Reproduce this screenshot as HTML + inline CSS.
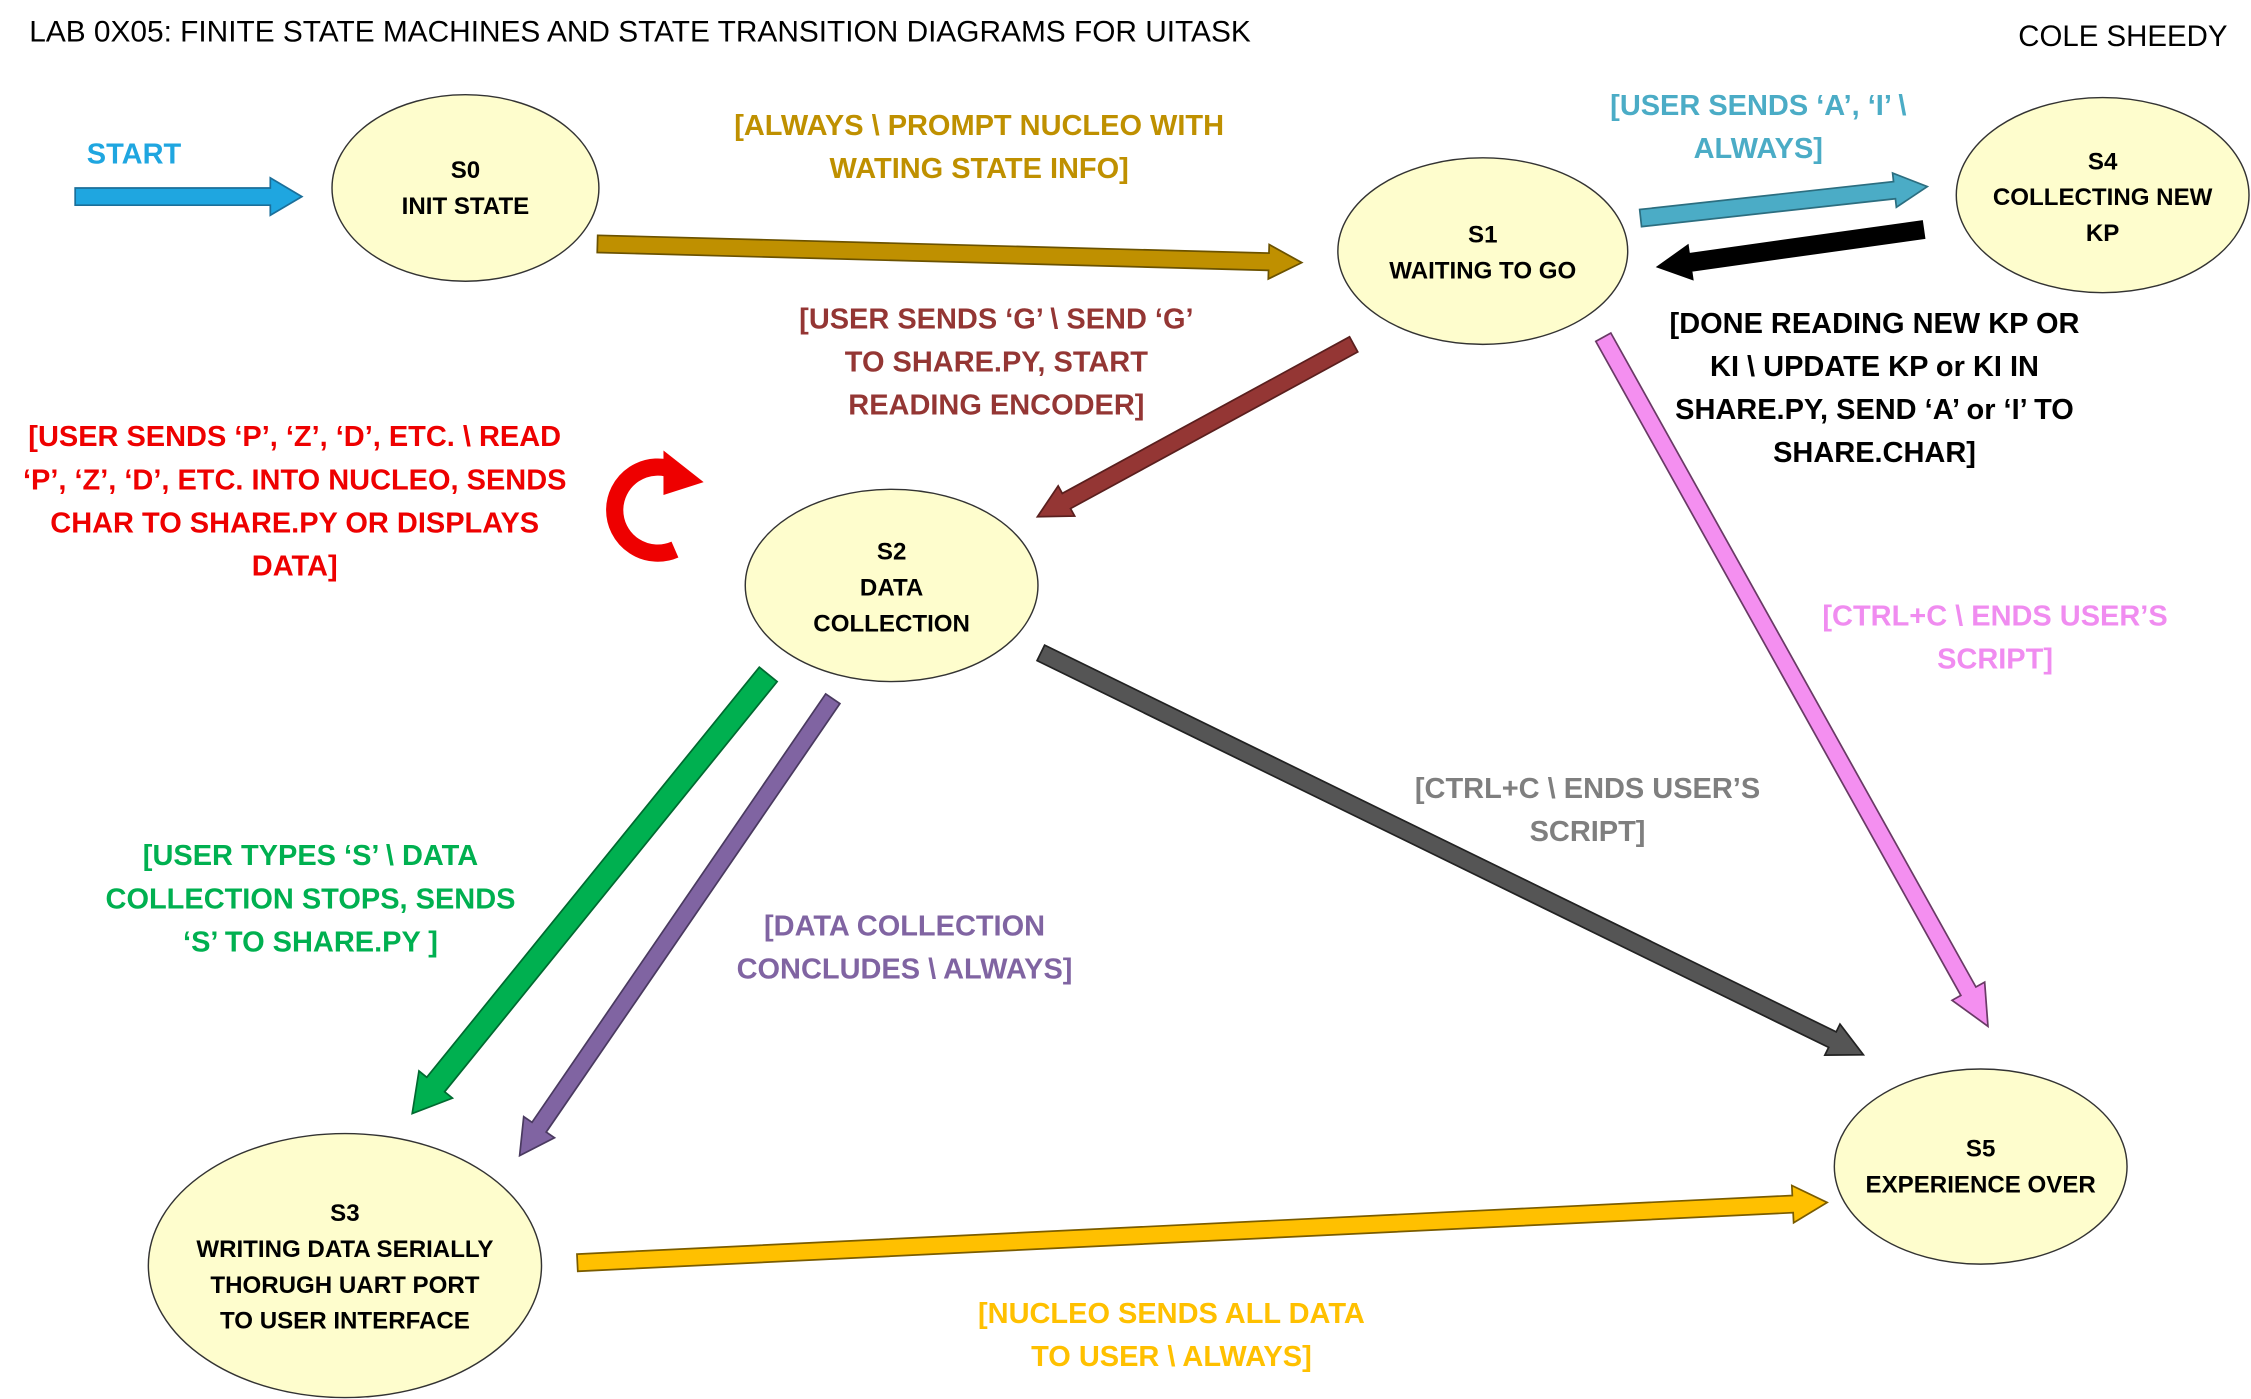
<!DOCTYPE html>
<html><head><meta charset="utf-8"><style>
html,body{margin:0;padding:0;background:#fff;}
svg{display:block;}
text{font-family:"Liberation Sans",sans-serif;}
.l{font-weight:bold;font-size:20.2px;text-anchor:middle;}
.s{font-weight:bold;font-size:16.8px;text-anchor:middle;fill:#000;}
</style></head><body>
<svg width="2251" height="1399" viewBox="0 0 1568 975" xmlns="http://www.w3.org/2000/svg">
<rect width="1568" height="975" fill="#fff"/>
<text x="20" y="29" font-size="20.8">LAB 0X05: FINITE STATE MACHINES AND STATE TRANSITION DIAGRAMS FOR UITASK</text>
<text x="1552" y="32" font-size="20.5" text-anchor="end">COLE SHEEDY</text>

<g stroke="#333" stroke-width="1">
<ellipse cx="324" cy="131" rx="93" ry="65" fill="#fefdcd"/>
<ellipse cx="1033" cy="175" rx="101" ry="65" fill="#fefdcd"/>
<ellipse cx="1465" cy="136" rx="102" ry="68" fill="#fefdcd"/>
<ellipse cx="621" cy="408" rx="102" ry="67" fill="#fefdcd"/>
<ellipse cx="240" cy="882" rx="137" ry="92" fill="#fefdcd"/>
<ellipse cx="1380" cy="813" rx="102" ry="68" fill="#fefdcd"/>
</g>
<text class="s"><tspan x="324" y="124">S0</tspan><tspan x="324" y="149">INIT STATE</tspan></text>
<text class="s"><tspan x="1033" y="169">S1</tspan><tspan x="1033" y="194">WAITING TO GO</tspan></text>
<text class="s"><tspan x="1465" y="118">S4</tspan><tspan x="1465" y="143">COLLECTING NEW</tspan><tspan x="1465" y="168">KP</tspan></text>
<text class="s"><tspan x="621" y="390">S2</tspan><tspan x="621" y="415">DATA</tspan><tspan x="621" y="440">COLLECTION</tspan></text>
<text class="s"><tspan x="240" y="851">S3</tspan><tspan x="240" y="876">WRITING DATA SERIALLY</tspan><tspan x="240" y="901">THORUGH UART PORT</tspan><tspan x="240" y="926">TO USER INTERFACE</tspan></text>
<text class="s"><tspan x="1380" y="806">S5</tspan><tspan x="1380" y="831">EXPERIENCE OVER</tspan></text>

<g stroke-width="1.2">
<g transform="translate(52,137) rotate(0)"><polygon fill="#1fa6e0" stroke="#1b6f9a" points="0,-6 136,-6 136,-13 158,0 136,13 136,6 0,6"/></g>
<g transform="translate(416,170) rotate(1.52)"><polygon fill="#bf9000" stroke="#6b5200" points="0,-6 468,-6 468,-12 491,0 468,12 468,6 0,6"/></g>
<g transform="translate(1143,152) rotate(-6.28)"><polygon fill="#4bacc6" stroke="#2c6e80" points="0,-6 178,-6 178,-12 201,0 178,12 178,6 0,6"/></g>
<g transform="translate(1340,160) rotate(172)"><polygon fill="#000" stroke="#000" points="0,-6 164,-6 164,-12 187,0 164,12 164,6 0,6"/></g>
<g transform="translate(943,240) rotate(151.4)"><polygon fill="#943634" stroke="#5a1f1e" points="0,-6 228,-6 228,-12 251,0 228,12 228,6 0,6"/></g>
<g transform="translate(1117,235) rotate(60.83)"><polygon fill="#f48ff0" stroke="#6a3a66" points="0,-6 522,-6 522,-13 550,0 522,13 522,6 0,6"/></g>
<g transform="translate(725,455) rotate(26.04)"><polygon fill="#555" stroke="#222" points="0,-6 614,-6 614,-12 638,0 614,12 614,6 0,6"/></g>
<g transform="translate(535,470) rotate(129.03)"><polygon fill="#00b050" stroke="#006a30" points="0,-8 368,-8 368,-15 394,0 368,15 368,8 0,8"/></g>
<g transform="translate(580,487) rotate(124.43)"><polygon fill="#8064a2" stroke="#4a3a60" points="0,-6 362,-6 362,-13 386,0 362,13 362,6 0,6"/></g>
<g transform="translate(402,880) rotate(-2.76)"><polygon fill="#ffc000" stroke="#7a5c00" points="0,-6 848,-6 848,-13 872,0 848,13 848,6 0,6"/></g>
</g>

<path d="M470,383 A30,30 0 1 1 470,328" fill="none" stroke="#e00" stroke-width="12"/>
<path d="M462,314 L490,336 L462,345 Z" fill="#e00"/>

<text class="l" fill="#1fa6e0" x="93" y="114">START</text>
<text class="l" fill="#bf9000"><tspan x="682" y="94">[ALWAYS \ PROMPT NUCLEO WITH</tspan><tspan x="682" y="124">WATING STATE INFO]</tspan></text>
<text class="l" fill="#4bacc6"><tspan x="1225" y="80">[USER SENDS ‘A’, ‘I’  \</tspan><tspan x="1225" y="110">ALWAYS]</tspan></text>
<text class="l" fill="#000"><tspan x="1306" y="232">[DONE READING NEW KP OR</tspan><tspan x="1306" y="262">KI  \ UPDATE KP or KI IN</tspan><tspan x="1306" y="292">SHARE.PY, SEND ‘A’ or ‘I’ TO</tspan><tspan x="1306" y="322">SHARE.CHAR]</tspan></text>
<text class="l" fill="#943634"><tspan x="694" y="229">[USER SENDS ‘G’  \ SEND ‘G’</tspan><tspan x="694" y="259">TO SHARE.PY, START</tspan><tspan x="694" y="289">READING ENCODER]</tspan></text>
<text class="l" fill="#e00"><tspan x="205" y="311">[USER SENDS ‘P’, ‘Z’, ‘D’, ETC.  \ READ</tspan><tspan x="205" y="341">‘P’, ‘Z’, ‘D’, ETC. INTO NUCLEO, SENDS</tspan><tspan x="205" y="371">CHAR TO SHARE.PY OR DISPLAYS</tspan><tspan x="205" y="401">DATA]</tspan></text>
<text class="l" fill="#f08cf0"><tspan x="1390" y="436">[CTRL+C \ ENDS USER’S</tspan><tspan x="1390" y="466">SCRIPT]</tspan></text>
<text class="l" fill="#7f7f7f"><tspan x="1106" y="556">[CTRL+C \ ENDS USER’S</tspan><tspan x="1106" y="586">SCRIPT]</tspan></text>
<text class="l" fill="#00b050"><tspan x="216" y="603">[USER TYPES ‘S’ \ DATA</tspan><tspan x="216" y="633">COLLECTION STOPS, SENDS</tspan><tspan x="216" y="663">‘S’ TO SHARE.PY ]</tspan></text>
<text class="l" fill="#8064a2"><tspan x="630" y="652">[DATA COLLECTION</tspan><tspan x="630" y="682">CONCLUDES \  ALWAYS]</tspan></text>
<text class="l" fill="#ffc000"><tspan x="816" y="922">[NUCLEO SENDS ALL DATA</tspan><tspan x="816" y="952">TO USER  \  ALWAYS]</tspan></text>
</svg>
</body></html>
